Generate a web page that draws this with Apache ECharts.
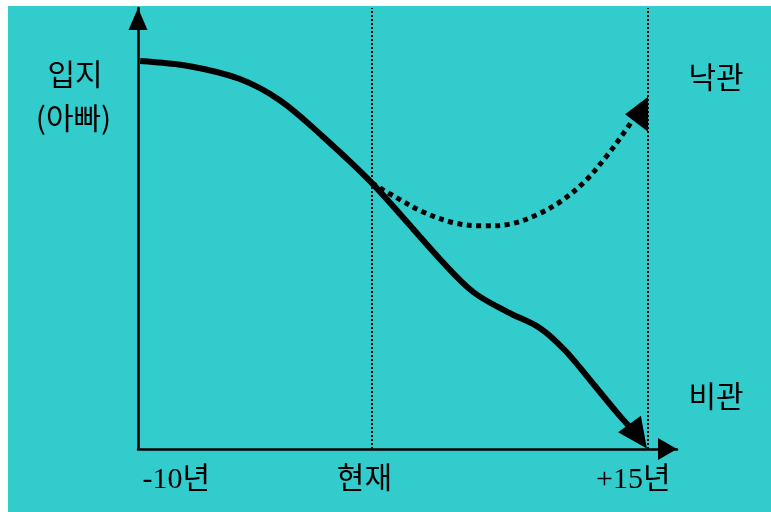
<!DOCTYPE html>
<html><head><meta charset="utf-8">
<script src="https://cdn.jsdelivr.net/npm/echarts@6/dist/echarts.min.js"></script>
<style>
html,body{margin:0;padding:0;background:#fff;width:771px;height:512px;overflow:hidden}
#c{position:absolute;left:8px;top:6px;width:763px;height:506px}
</style></head>
<body><div id="c"></div>
<script>
// ---- data (schematic time axis 0..100, position axis 0..100) ----
const xTickLabels = ['-10년', '현재', '+15년'];
const xTickPositions = [7.1, 42.0, 91.9];
const markerX = [43.4, 94.6];               // 현재, +15년 guide lines
const pessimisticX = [0.4, 9.6, 18.9, 26.3, 33.8, 43.4, 56.0, 62.2, 68.5, 74.6, 79.2, 83.9, 88.9, 92.8];
const pessimisticY = [88.0, 86.8, 83.9, 79.1, 71.4, 60.3, 43.1, 35.6, 31.1, 27.4, 22.4, 15.6, 8.2, 2.9];
const optimisticX = [43.4, 47.8, 53.0, 58.6, 64.0, 69.0, 73.8, 78.5, 83.0, 87.0, 90.2, 92.5];
const optimisticY = [60.3, 57.1, 53.7, 51.3, 50.6, 51.0, 53.0, 56.2, 60.8, 66.5, 71.8, 75.9];
const yAxisTitle = ['입지', '(아빠)'];
const scenarioLabels = ['낙관', '비관'];

const KFONT = "'Noto Sans CJK KR', 'Noto Sans', sans-serif";
const NFONT = "'Liberation Serif', 'Noto Sans CJK KR', serif";

function zip(xs, ys) { return xs.map((x, i) => [x, ys[i]]); }

const solidData = zip(pessimisticX, pessimisticY).map((p, i, a) => i === a.length - 1
  ? { value: p, symbol: 'triangle', symbolSize: [28, 30], symbolRotate: -144.5 }
  : { value: p, symbol: 'none' });
const dotData = zip(optimisticX, optimisticY).map((p, i, a) => i === a.length - 1
  ? { value: p, symbol: 'triangle', symbolSize: [35, 23], symbolRotate: 90 }
  : { value: p, symbol: 'none' });

const chart = echarts.init(document.getElementById('c'));
chart.setOption({
  backgroundColor: '#33cccc',
  animation: false,
  grid: { left: 130, top: 2, right: 94, bottom: 63, containLabel: false },
  xAxis: {
    type: 'value', min: 0, max: 100,
    splitLine: { show: false },
    axisTick: { show: false },
    axisLine: { show: true, lineStyle: { color: '#000', width: 2.5 },
      symbol: ['none', 'triangle'], symbolSize: [22, 19], symbolOffset: [0, -9.5] },
    axisLabel: {
      customValues: xTickPositions,
      margin: 16,
      color: '#000', fontSize: 30, fontFamily: NFONT,
      formatter: v => {
        let best = 0;
        xTickPositions.forEach((p, i) => { if (Math.abs(p - v) < Math.abs(xTickPositions[best] - v)) best = i; });
        return xTickLabels[best];
      }
    }
  },
  yAxis: {
    type: 'value', min: 0, max: 100,
    splitLine: { show: false },
    axisTick: { show: false },
    axisLabel: { show: false },
    axisLine: { show: true, lineStyle: { color: '#000', width: 2.5 },
      symbol: ['none', 'triangle'], symbolSize: [19, 22], symbolOffset: [0, -11] }
  },
  series: [
    {
      type: 'line', data: solidData, smooth: 0.35,
      lineStyle: { color: '#000', width: 6 },
      itemStyle: { color: '#000' },
      z: 5,
      markLine: {
        silent: true, symbol: 'none', label: { show: false },
        lineStyle: { color: '#000', width: 2, type: [2, 2] },
        data: markerX.map(x => ({ xAxis: x }))
      }
    },
    {
      type: 'line', data: dotData, smooth: 0.35,
      lineStyle: { color: '#000', width: 5, type: [5, 4.5], cap: 'butt' },
      itemStyle: { color: '#000' },
      z: 4
    }
  ],
  graphic: [
    { type: 'text', x: 67, y: 68, style: { text: yAxisTitle[0], font: '30px ' + KFONT, fill: '#000', align: 'center', verticalAlign: 'middle' } },
    { type: 'text', x: 65.5, y: 112, style: { text: yAxisTitle[1], font: '30px ' + KFONT, fill: '#000', align: 'center', verticalAlign: 'middle' } },
    { type: 'text', x: 708, y: 71, style: { text: scenarioLabels[0], font: '30px ' + KFONT, fill: '#000', align: 'center', verticalAlign: 'middle' } },
    { type: 'text', x: 708, y: 390, style: { text: scenarioLabels[1], font: '30px ' + KFONT, fill: '#000', align: 'center', verticalAlign: 'middle' } }
  ]
});
</script>
</body></html>
